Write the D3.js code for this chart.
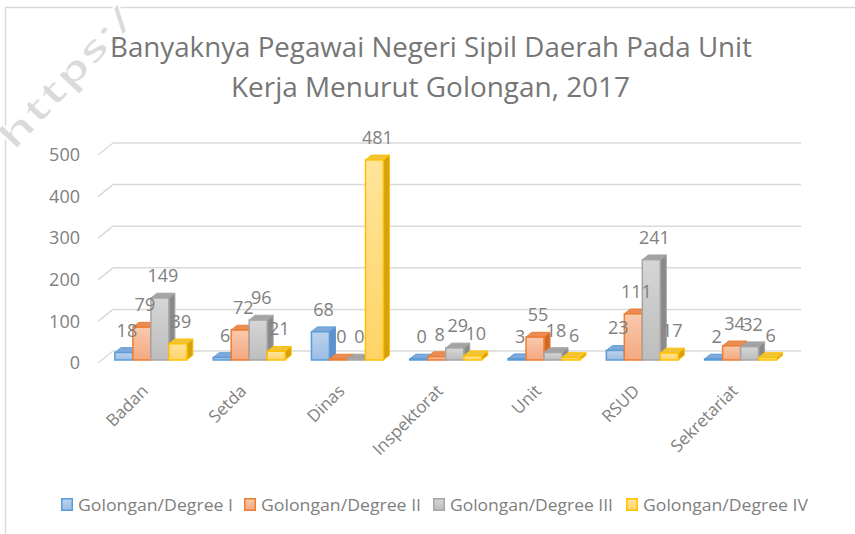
<!DOCTYPE html>
<html>
<head>
<meta charset="utf-8">
<script src="https://cdn.jsdelivr.net/npm/d3@7"></script>
<style>
  body { margin: 0; background: #fff; }
  text { font-family: "Open Sans", "Noto Sans", sans-serif; }
</style>
</head>
<body>
<div id="chart"></div>
<script>
// data
var categories = ["Badan", "Setda", "Dinas", "Inspektorat", "Unit", "RSUD", "Sekretariat"];
var seriesNames = ["Golongan/Degree I", "Golongan/Degree II", "Golongan/Degree III", "Golongan/Degree IV"];
var golongan1 = [18, 6, 68, 0, 3, 23, 2];
var golongan2 = [79, 72, 0, 8, 55, 111, 34];
var golongan3 = [149, 96, 0, 29, 18, 241, 32];
var golongan4 = [39, 21, 481, 10, 6, 17, 6];
var yTicks = [0, 100, 200, 300, 400, 500];
var titleLines = ["Banyaknya Pegawai Negeri Sipil Daerah Pada Unit", "Kerja Menurut Golongan, 2017"];

var allSeries = [golongan1, golongan2, golongan3, golongan4];

// colours per series: front gradient top/bottom, border, top face, side face
var palette = [
  {light: "#bcd3ee", dark: "#9cbde4", line: "#5b9bd5", top: "#7ea9dc", side: "#5f8fcc"},
  {light: "#f9c9ad", dark: "#f4a880", line: "#ed7d31", top: "#ea8c55", side: "#d0682a"},
  {light: "#d6d6d6", dark: "#bdbdbd", line: "#a5a5a5", top: "#a3a3a3", side: "#8a8a8a"},
  {light: "#ffe49a", dark: "#ffd466", line: "#ffc000", top: "#f0c43a", side: "#d4a20c"}
];

var W = 855, H = 534;
var depthX = 15, depthY = 12;      // back wall offset
var barD0 = 0.25, barD1 = 0.65;    // bar depth inside the floor

var svg = d3.select("#chart").append("svg")
  .attr("width", W)
  .attr("height", H);

var defs = svg.append("defs");
palette.forEach(function(p, i) {
  var g = defs.append("linearGradient")
    .attr("id", "grad-" + i)
    .attr("x1", "0%").attr("x2", "0%")
    .attr("y1", "0%").attr("y2", "100%");
  g.append("stop").attr("offset", "0%").attr("stop-color", p.light);
  g.append("stop").attr("offset", "100%").attr("stop-color", p.dark);
});

// chart border (only left and top show in the picture)
svg.append("line").attr("x1", 5.5).attr("x2", 5.5).attr("y1", 7).attr("y2", H)
  .attr("stroke", "#d9d9d9").attr("stroke-width", 1.5);
svg.append("line").attr("x1", 5).attr("x2", W).attr("y1", 7.5).attr("y2", 7.5)
  .attr("stroke", "#d9d9d9").attr("stroke-width", 1.5);

// watermark in the corner
svg.append("text")
  .attr("transform", "translate(14,152) rotate(-47)")
  .attr("font-family", "DejaVu Sans")
  .attr("font-weight", "bold")
  .attr("font-size", 36)
  .attr("textLength", 180)
  .attr("lengthAdjust", "spacingAndGlyphs")
  .attr("fill", "#dadada")
  .attr("stroke", "#fff")
  .attr("stroke-width", 1.5)
  .text("https:/");

// title
svg.append("g").selectAll("text")
  .data(titleLines)
  .enter().append("text")
  .attr("x", function(d, i) { return i == 0 ? 110 : 231; })
  .attr("y", function(d, i) { return 57 + i * 40; })
  .attr("font-size", 27)
  .attr("fill", "#767676")
  .attr("textLength", function(d, i) { return i == 0 ? 642 : 399; })
  .attr("lengthAdjust", "spacingAndGlyphs")
  .text(function(d) { return d; });

// scales on the front plane
var x = d3.scaleBand()
  .domain(categories)
  .range([98, 786]);

var groupW = 72;
var xs = d3.scaleBand()
  .domain(seriesNames)
  .range([(x.bandwidth() - groupW) / 2, (x.bandwidth() + groupW) / 2]);

var y = d3.scaleLinear()
  .domain([0, 500])
  .range([363, 155]);

// back wall gridlines + the short diagonal on the left wall
var grid = svg.append("g");
grid.selectAll("line.back")
  .data(yTicks)
  .enter().append("line")
  .attr("class", "back")
  .attr("x1", 98 + depthX).attr("x2", 786 + depthX)
  .attr("y1", function(d) { return y(d) - depthY; })
  .attr("y2", function(d) { return y(d) - depthY; })
  .attr("stroke", "#d9d9d9").attr("stroke-width", 1.5);
grid.selectAll("line.side")
  .data(yTicks)
  .enter().append("line")
  .attr("class", "side")
  .attr("x1", 98).attr("x2", 98 + depthX)
  .attr("y1", function(d) { return y(d); })
  .attr("y2", function(d) { return y(d) - depthY; })
  .attr("stroke", "#d9d9d9").attr("stroke-width", 1.5);

// y axis labels
svg.append("g")
  .attr("transform", "translate(80,0)")
  .call(d3.axisLeft(y).tickValues(yTicks).tickSize(0).tickPadding(0))
  .call(g => g.select(".domain").remove())
  .call(g => g.selectAll("text")
    .attr("fill", "#808080")
    .style("font-size", "18px")
    .style("font-family", "'Open Sans', sans-serif"));

// bars, drawn group by group, left to right
var bars = [];
categories.forEach(function(c, ci) {
  seriesNames.forEach(function(s, si) {
    bars.push({cat: c, ser: s, si: si, value: allSeries[si][ci]});
  });
});

var fx0 = barD0 * depthX, fy0 = barD0 * depthY;
var dx = (barD1 - barD0) * depthX, dy = (barD1 - barD0) * depthY;
var bw = xs.bandwidth();

function geom(d) {
  var x0 = x(d.cat) + xs(d.ser) + fx0;
  var yb = y(0) - fy0;
  var yt = Math.min(y(d.value) - fy0, yb - 1);
  return {x0: x0, x1: x0 + bw, yt: yt, yb: yb};
}

var barG = svg.append("g").selectAll("g")
  .data(bars)
  .enter().append("g");

barG.append("path")
  .attr("d", function(d) {
    var g = geom(d);
    return "M" + g.x1 + "," + g.yt + "L" + (g.x1 + dx) + "," + (g.yt - dy) +
      "L" + (g.x1 + dx) + "," + (g.yb - dy) + "L" + g.x1 + "," + g.yb + "Z";
  })
  .attr("fill", function(d) { return palette[d.si].side; })
  .attr("stroke", function(d) { return palette[d.si].line; })
  .attr("stroke-width", 1)
  .attr("stroke-linejoin", "round");

barG.append("path")
  .attr("d", function(d) {
    var g = geom(d);
    return "M" + g.x0 + "," + g.yt + "L" + (g.x0 + dx) + "," + (g.yt - dy) +
      "L" + (g.x1 + dx) + "," + (g.yt - dy) + "L" + g.x1 + "," + g.yt + "Z";
  })
  .attr("fill", function(d) { return palette[d.si].top; })
  .attr("stroke", function(d) { return palette[d.si].line; })
  .attr("stroke-width", 1)
  .attr("stroke-linejoin", "round");

barG.append("rect")
  .attr("x", function(d) { return geom(d).x0; })
  .attr("y", function(d) { return geom(d).yt; })
  .attr("width", bw)
  .attr("height", function(d) { var g = geom(d); return g.yb - g.yt; })
  .attr("fill", function(d) { return "url(#grad-" + d.si + ")"; })
  .attr("stroke", function(d) { return palette[d.si].line; })
  .attr("stroke-width", 1.5);

// data labels on top
svg.append("g").selectAll("text")
  .data(bars)
  .enter().append("text")
  .attr("x", function(d) { return geom(d).x0 + bw / 2 + 3; })
  .attr("y", function(d) { return geom(d).yt - 16; })
  .attr("text-anchor", "middle")
  .attr("font-size", 18)
  .attr("fill", "#808080")
  .text(function(d) { return d.value; });

// category labels, rotated
svg.append("g").selectAll("text")
  .data(categories)
  .enter().append("text")
  .attr("transform", function(d) {
    return "translate(" + (x(d) + x.bandwidth() / 2 + 2) + ",392) rotate(-45)";
  })
  .attr("text-anchor", "end")
  .attr("font-size", 17)
  .attr("fill", "#808080")
  .text(function(d) { return d; });

// legend
var legendX = [61, 244, 433, 626];
var legendLen = [155, 160, 163, 165];
var legend = svg.append("g").selectAll("g")
  .data(seriesNames)
  .enter().append("g")
  .attr("transform", function(d, i) { return "translate(" + legendX[i] + ",498)"; });
legend.append("rect")
  .attr("x", 0.75).attr("y", 0.75)
  .attr("width", 10.5).attr("height", 11.5)
  .attr("fill", function(d, i) { return "url(#grad-" + i + ")"; })
  .attr("stroke", function(d, i) { return palette[i].line; })
  .attr("stroke-width", 1.5);
legend.append("text")
  .attr("x", 17)
  .attr("y", 13)
  .attr("font-size", 16)
  .attr("fill", "#808080")
  .attr("textLength", function(d, i) { return legendLen[i]; })
  .attr("lengthAdjust", "spacingAndGlyphs")
  .text(function(d) { return d; });
</script>
</body>
</html>
